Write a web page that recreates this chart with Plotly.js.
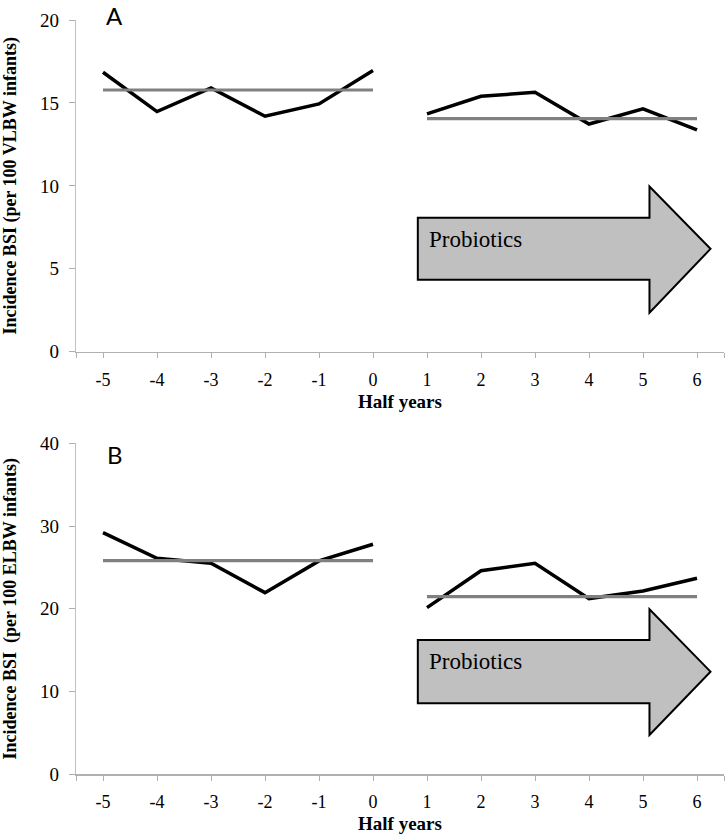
<!DOCTYPE html>
<html>
<head>
<meta charset="utf-8">
<script src="https://cdn.plot.ly/plotly-3.0.1.min.js"></script>
<style>html,body{margin:0;padding:0;background:#fff;}#chart{width:725px;height:834px;}</style>
</head>
<body>
<div id="chart"></div>
<script>
// ---- data ----
const halfYears = [-5, -4, -3, -2, -1, 0, 1, 2, 3, 4, 5, 6];
const preX = [-5, -4, -3, -2, -1, 0];
const postX = [1, 2, 3, 4, 5, 6];
const vlbwPre = [16.85, 14.48, 15.9, 14.2, 14.94, 16.95];
const vlbwPost = [14.34, 15.4, 15.64, 13.73, 14.64, 13.37];
const vlbwPreMean = 15.78;
const vlbwPostMean = 14.06;
const elbwPre = [29.2, 26.1, 25.5, 21.95, 25.78, 27.8];
const elbwPost = [20.14, 24.6, 25.5, 21.23, 22.15, 23.69];
const elbwPreMean = 25.82;
const elbwPostMean = 21.47;
const yTicksA = [0, 5, 10, 15, 20];
const yTicksB = [0, 10, 20, 30, 40];

const serif = 'Liberation Serif, Times New Roman, serif';
const black = '#000000';
const grey = '#808080';

function lineTrace(x, y, xa, ya, color, w) {
  return {x: x, y: y, xaxis: xa, yaxis: ya, type: 'scatter', mode: 'lines',
          line: {color: color, width: w}, hoverinfo: 'skip', showlegend: false};
}
function flat(x, v) { return x.map(() => v); }
function ends(x) { return [x[0], x[x.length - 1]]; }

const traces = [
  lineTrace(preX, vlbwPre, 'x', 'y', black, 3.5),
  lineTrace(postX, vlbwPost, 'x', 'y', black, 3.5),
  lineTrace(ends(preX), flat(ends(preX), vlbwPreMean), 'x', 'y', grey, 3.2),
  lineTrace(ends(postX), flat(ends(postX), vlbwPostMean), 'x', 'y', grey, 3.2),
  lineTrace(preX, elbwPre, 'x2', 'y2', black, 3.5),
  lineTrace(postX, elbwPost, 'x2', 'y2', black, 3.5),
  lineTrace(ends(preX), flat(ends(preX), elbwPreMean), 'x2', 'y2', grey, 3.2),
  lineTrace(ends(postX), flat(ends(postX), elbwPostMean), 'x2', 'y2', grey, 3.2)
];

function xAxis(anchor) {
  return {
    anchor: anchor, domain: [0, 1], range: [-5.5, 6.5],
    tickmode: 'array', tickvals: halfYears, ticktext: halfYears.map(String),
    ticks: 'outside', ticklen: 5, tickcolor: '#b0b0b0', tickwidth: 1,
    minor: {tickmode: 'array', tickvals: [-5.5, 6.5], ticks: 'outside', ticklen: 5, tickcolor: '#b0b0b0'},
    showline: true, linecolor: '#b0b0b0', linewidth: 1.3,
    showgrid: false, zeroline: false, fixedrange: true,
    tickfont: {family: serif, size: 18, color: '#000'},
    ticklabelstandoff: 6,
    title: {text: 'Half years', font: {family: serif, size: 19, color: '#000', weight: 'bold'}, standoff: 6}
  };
}
function yAxis(anchor, domain, range, ticks, title) {
  return {
    anchor: anchor, domain: domain, range: range,
    tickmode: 'array', tickvals: ticks, ticktext: ticks.map(String),
    ticks: 'outside', ticklen: 6, tickcolor: '#b0b0b0', tickwidth: 1,
    showline: true, linecolor: '#c0c0c0', linewidth: 1.3,
    showgrid: false, zeroline: false, fixedrange: true,
    tickfont: {family: serif, size: 19, color: '#000'},
    ticklabelstandoff: 6,
    title: {text: title, font: {family: serif, size: 18, color: '#000', weight: 'bold'}, standoff: 20}
  };
}

function arrowPath(x0, xh, xt, yb0, yb1, yh0, yh1, ytip) {
  return 'M ' + x0 + ',' + yb1 + ' L ' + xh + ',' + yb1 + ' L ' + xh + ',' + yh1 +
         ' L ' + xt + ',' + ytip + ' L ' + xh + ',' + yh0 + ' L ' + xh + ',' + yb0 +
         ' L ' + x0 + ',' + yb0 + ' Z';
}

const layout = {
  width: 725, height: 834,
  margin: {l: 76, r: 1, t: 0, b: 0},
  paper_bgcolor: '#ffffff', plot_bgcolor: '#ffffff',
  showlegend: false,
  xaxis: xAxis('y'),
  yaxis: yAxis('x', [0.5783, 0.9760], [0, 20], yTicksA, 'Incidence BSI (per 100 VLBW infants)'),
  xaxis2: xAxis('y2'),
  yaxis2: yAxis('x2', [0.0716, 0.4685], [0, 40], yTicksB, 'Incidence BSI  (per 100 ELBW infants)'),
  shapes: [
    {type: 'path', xref: 'x', yref: 'y', path: arrowPath(0.83, 5.12, 6.25, 4.34, 8.07, 2.35, 9.96, 6.2),
     fillcolor: '#c0c0c0', line: {color: '#000', width: 2}, layer: 'above'},
    {type: 'path', xref: 'x2', yref: 'y2', path: arrowPath(0.83, 5.12, 6.25, 8.58, 16.23, 4.75, 19.94, 12.4),
     fillcolor: '#c0c0c0', line: {color: '#000', width: 2}, layer: 'above'}
  ],
  annotations: [
    {text: 'A', xref: 'paper', yref: 'paper', x: 0.060, y: 1.0, showarrow: false, xanchor: 'center', yanchor: 'top',
     borderpad: 0, font: {family: 'Lato, Open Sans, sans-serif', size: 24, color: '#000'}},
    {text: 'B', xref: 'paper', yref: 'paper', x: 0.060, y: 0.4545, showarrow: false, xanchor: 'center', yanchor: 'middle',
     borderpad: 0, font: {family: 'Lato, Open Sans, sans-serif', size: 24, color: '#000'}},
    {text: 'Probiotics', xref: 'x', yref: 'y', x: 1.0, y: 6.75, showarrow: false, xanchor: 'left', yanchor: 'middle',
     font: {family: serif, size: 23, color: '#000'}},
    {text: 'Probiotics', xref: 'x2', yref: 'y2', x: 1.0, y: 13.6, showarrow: false, xanchor: 'left', yanchor: 'middle',
     font: {family: serif, size: 23, color: '#000'}}
  ]
};

Plotly.newPlot('chart', traces, layout, {displayModeBar: false, staticPlot: true});
</script>
</body>
</html>
